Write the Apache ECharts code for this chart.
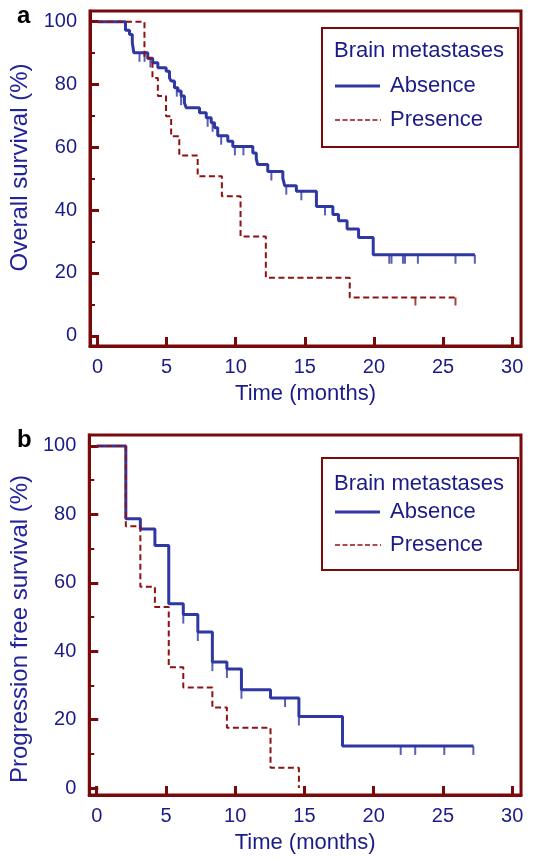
<!DOCTYPE html>
<html>
<head>
<meta charset="utf-8">
<script src="https://cdn.jsdelivr.net/npm/echarts@6/dist/echarts.min.js"></script>
<style>
  html,body{margin:0;padding:0;background:#fff;}
  #chart{width:541px;height:859px;}
</style>
</head>
<body>
<div id="chart"></div>
<script>
// overall survival (a)
var osTimeAbs=[0,2.03,2.32,2.52,2.63,3.64,4.0,4.37,4.97,5.21,5.33,5.57,5.82,6.05,6.29,6.42,7.38,7.87,8.23,8.47,8.7,9.43,9.79,11.24,11.49,11.59,12.32,13.41,13.54,14.39,15.84,17.03,17.44,18.06,18.89,19.95];
var osSurvAbs=[100,97.3,95.9,93.3,90.1,88.3,86.9,85.3,84.2,82.1,81.1,79.0,77.9,76.3,74.2,72.6,71.0,69.4,67.8,66.2,63.7,61.9,60.3,58.2,56.3,54.5,52.3,50.2,47.8,46.0,41.2,38.6,36.6,34.0,31.3,25.8];
var osCensAbs=[3.04,3.41,3.83,5.74,6.05,7.97,8.33,8.95,9.94,10.56,12.58,13.66,14.75,16.46,21.11,21.27,22.1,22.25,23.18,25.9,27.3];
var osTimePre=[0,3.4,3.98,4.37,4.96,5.33,5.92,7.25,9.0,10.35,12.18,18.25];
var osSurvPre=[100,88.5,82.1,76.3,69.9,63.5,57.4,50.8,44.4,31.6,18.5,12.2];
var osCensPre=[23.0,25.9];

// progression free survival (b)
var pfsTimeAbs=[0,2.1,3.15,4.2,5.2,6.25,7.3,8.35,9.4,10.45,12.55,14.6,17.75];
var pfsSurvAbs=[100,78.7,75.7,70.9,53.9,50.7,45.6,36.8,34.8,28.7,26.3,20.9,12.3];
var pfsCensAbs=[6.25,7.3,8.35,9.4,10.45,13.6,14.6,21.95,23.0,25.1,27.2];
var pfsTimePre=[0,2.1,3.15,4.2,5.2,6.25,8.35,9.4,12.55,14.6];
var pfsSurvPre=[100,76.5,58.8,52.9,35.3,29.4,23.5,17.6,5.9,0];
var pfsCensPre=[];

var xTicks=[0,5,10,15,20,25,30];
var yTicks=[0,20,40,60,80,100];
var yMinor=[10,30,50,70,90];

var frame='#7a0a0a',
    txt='#1b1b87',
    blue='#2f37a3',
    red='#8e1212',
    font='Liberation Sans, Arial, sans-serif';

function level(times,surv,t){
    var v=surv[0];
    for(var i=0;i<times.length;i++){
        if(times[i]<=t) v=surv[i];
    }
    return v;
}
function kmLine(times,surv,cens){
    var pts=times.map(function(t,i){return [t,surv[i]];});
    var last=times[times.length-1];
    cens.forEach(function(c){ if(c>last) last=c; });
    if(last>times[times.length-1]) pts.push([last,surv[surv.length-1]]);
    return pts;
}
function censPts(times,surv,cens){
    return cens.map(function(c){return [c,level(times,surv,c)];});
}

var grids=[
    {left:90,top:11,width:431,height:335,ymin:-3.25,ymax:103.4,name:'Overall survival (%)',pad:[0,0,0,22]},
    {left:89,top:435,width:432,height:360,ymin:-2.05,ymax:103.2,name:'Progression free survival (%)',pad:[0,28,0,0]}
];

var option={
    animation:false,
    grid:[],xAxis:[],yAxis:[],series:[],graphic:[]
};

// tick-only axis, no line and no labels
function tickAxis(gi,min,max,vals,len,w){
    return {
        type:'value',gridIndex:gi,min:min,max:max,
        axisLine:{show:false,onZero:false},
        axisTick:{show:true,inside:true,length:len,customValues:vals,lineStyle:{color:frame,width:w}},
        axisLabel:{show:false},
        splitLine:{show:false}
    };
}

grids.forEach(function(g,i){
    option.grid.push({left:g.left,top:g.top,width:g.width,height:g.height,show:true,borderColor:frame,borderWidth:3});
    option.xAxis.push({
        type:'value',gridIndex:i,min:-0.54,max:30.64,
        name:'Time (months)',nameLocation:'middle',nameGap:37,
        nameTextStyle:{color:txt,fontSize:22,fontFamily:font},
        axisLine:{show:true,onZero:false,lineStyle:{color:frame,width:3}},
        axisTick:{show:false},
        axisLabel:{customValues:xTicks,color:txt,fontSize:20,fontFamily:font,margin:11},
        splitLine:{show:false}
    });
    var xt=tickAxis(i,-0.54,30.64,xTicks,9,3);
    xt.position='bottom';
    option.xAxis.push(xt);

    option.yAxis.push({
        type:'value',gridIndex:i,min:g.ymin,max:g.ymax,position:'left',
        name:g.name,nameLocation:'middle',nameGap:56,
        nameTextStyle:{color:'#23239a',fontSize:24,fontFamily:font,padding:g.pad},
        axisLine:{show:true,onZero:false,lineStyle:{color:frame,width:3}},
        axisTick:{show:false},
        axisLabel:{customValues:yTicks,color:txt,fontSize:20,fontFamily:font,margin:13},
        splitLine:{show:false}
    });
    var ym=tickAxis(i,g.ymin,g.ymax,yTicks,9,3);
    ym.position='left';
    option.yAxis.push(ym);
    var yn=tickAxis(i,g.ymin,g.ymax,yMinor,5,2);
    yn.position='left';
    option.yAxis.push(yn);
});

function addSeries(gi,times,surv,cens,color,dashed){
    option.series.push({
        type:'line',xAxisIndex:gi*2,yAxisIndex:gi*3,step:'end',symbol:'none',
        data:kmLine(times,surv,cens),
        lineStyle:dashed?{color:color,width:2,type:[6,3.5]}:{color:color,width:3},
        z:dashed?4:3
    });
    option.series.push({
        type:'scatter',xAxisIndex:gi*2,yAxisIndex:gi*3,
        data:censPts(times,surv,cens),
        symbol:'rect',symbolSize:dashed?[2,8]:[2,9],symbolOffset:[0,dashed?4:4.5],
        itemStyle:{color:color},z:dashed?4:3
    });
}
addSeries(0,osTimeAbs,osSurvAbs,osCensAbs,blue,false);
addSeries(0,osTimePre,osSurvPre,osCensPre,red,true);
addSeries(1,pfsTimeAbs,pfsSurvAbs,pfsCensAbs,blue,false);
addSeries(1,pfsTimePre,pfsSurvPre,pfsCensPre,red,true);

function legendBox(top,h,yT,yA,yP){
    return [
        {type:'rect',shape:{x:322,y:top,width:196,height:h},style:{fill:'#fff',stroke:frame,lineWidth:2},z:10},
        {type:'text',x:334,y:top+yT,style:{text:'Brain metastases',fill:txt,font:'22px '+font,textVerticalAlign:'middle'},z:11},
        {type:'line',shape:{x1:335,y1:top+yA,x2:380,y2:top+yA},style:{stroke:blue,lineWidth:3},z:11},
        {type:'text',x:390,y:top+yA,style:{text:'Absence',fill:txt,font:'22px '+font,textVerticalAlign:'middle'},z:11},
        {type:'line',shape:{x1:335,y1:top+yP,x2:381,y2:top+yP},style:{stroke:red,lineWidth:1.5,lineDash:[5,2.5]},z:11},
        {type:'text',x:390,y:top+yP,style:{text:'Presence',fill:txt,font:'22px '+font,textVerticalAlign:'middle'},z:11}
    ];
}
option.graphic=[].concat(
    legendBox(28,119,23,58,92),
    legendBox(458,112,26,54,87),
    [
        {type:'text',x:17,y:16,style:{text:'a',fill:'#000',font:'bold 24px '+font,textVerticalAlign:'middle'}},
        {type:'text',x:17,y:440,style:{text:'b',fill:'#000',font:'bold 24px '+font,textVerticalAlign:'middle'}}
    ]
);

var chart=echarts.init(document.getElementById('chart'));
chart.setOption(option);
</script>
</body>
</html>
